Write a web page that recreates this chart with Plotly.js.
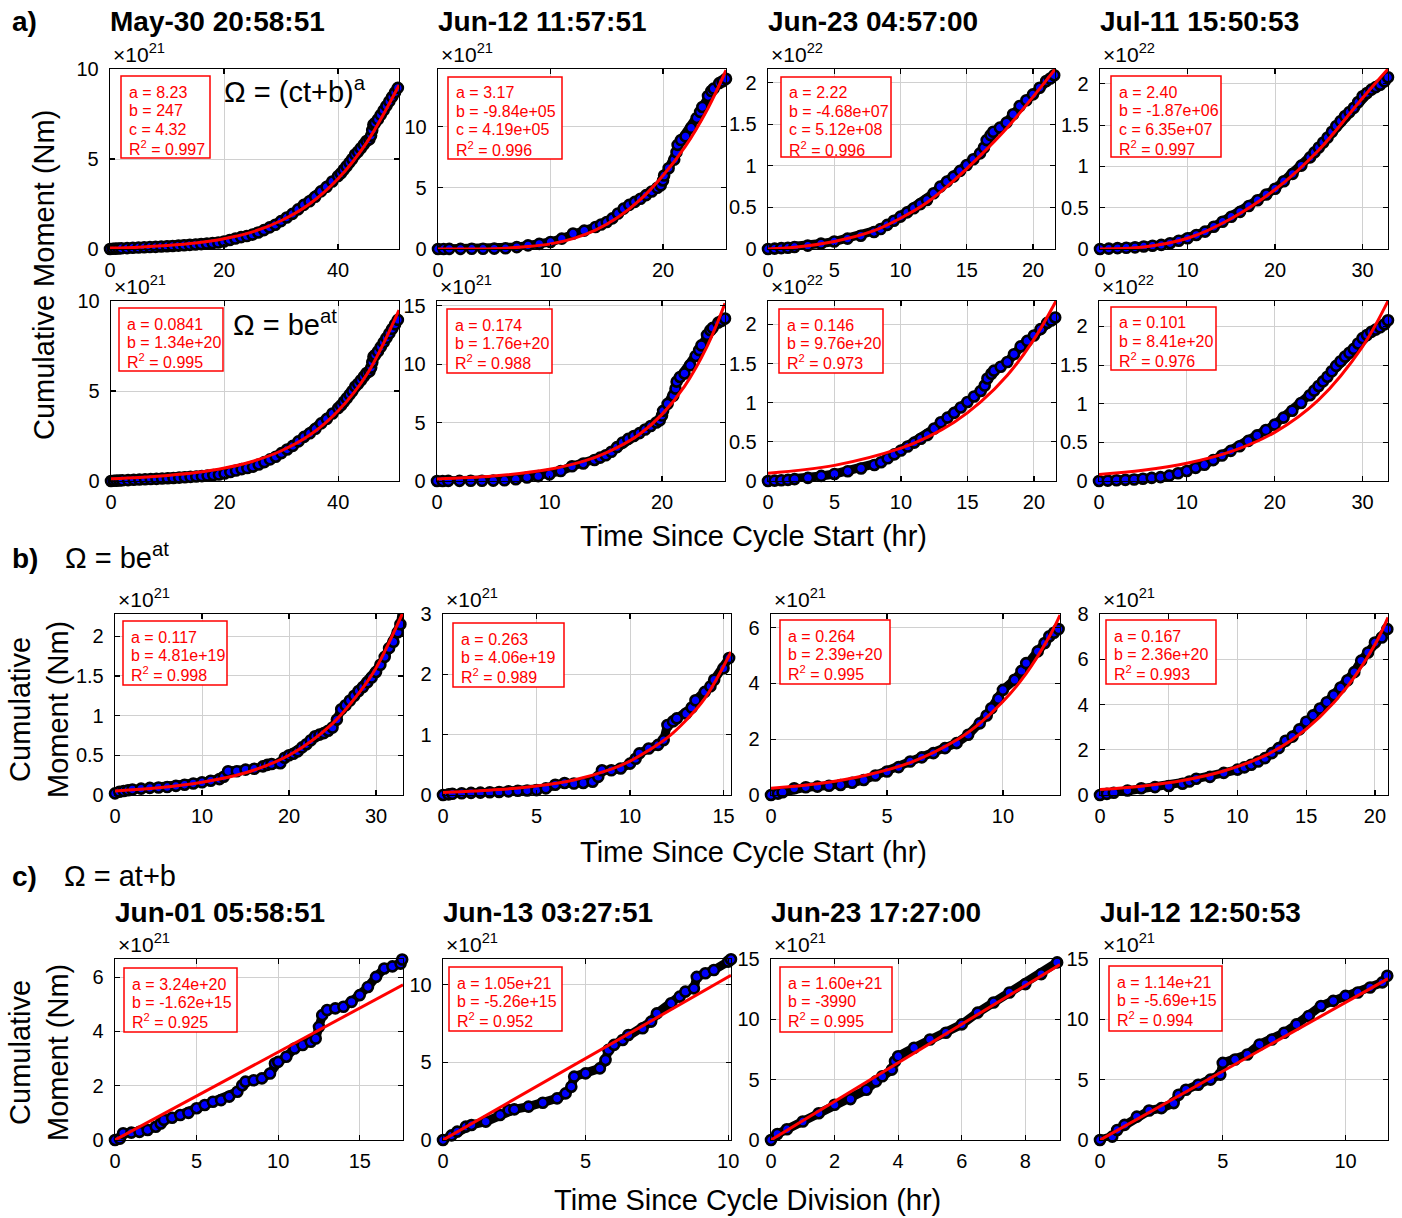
<!DOCTYPE html>
<html><head><meta charset="utf-8">
<script src="https://cdn.plot.ly/plotly-3.0.1.min.js"></script>
<style>html,body{margin:0;padding:0;background:#fff;}</style>
</head><body><div id="chart" style="width:1402px;height:1218px;"></div>
<script>
// ---------------- DATA (time in hr, moment in displayed units) ----------------
const titlesA = ['May-30 20:58:51', 'Jun-12 11:57:51', 'Jun-23 04:57:00', 'Jul-11 15:50:53'];
const titlesC = ['Jun-01 05:58:51', 'Jun-13 03:27:51', 'Jun-23 17:27:00', 'Jul-12 12:50:53'];

// a) cumulative moment since cycle start (x1e21, x1e21, x1e22, x1e22)
const cycMay30 = [[0,0],[0.5,0.01],[1,0.02],[1.5,0.03],[2,0.04],[3,0.05],[4,0.07],[5,0.08],[6,0.1],[7,0.11],[8,0.12],[9,0.14],[10,0.15],[11,0.17],[12,0.19],[13,0.21],[14,0.23],[15,0.25],[16,0.27],[17,0.3],[18,0.33],[19,0.36],[20,0.42],[21,0.5],[22,0.58],[23,0.66],[24,0.72],[25,0.8],[26,0.92],[27,1.05],[28,1.2],[29,1.35],[30,1.55],[31,1.75],[32,1.95],[33,2.2],[34,2.45],[35,2.65],[36,2.9],[37,3.2],[38,3.45],[39,3.75],[40,4.05],[40.5,4.2],[41,4.4],[41.5,4.6],[42,4.8],[42.5,5.0],[43,5.25],[43.5,5.4],[44,5.6],[44.5,5.8],[45,6.0],[45.5,6.1],[45.8,6.3],[46,6.6],[46.2,6.9],[46.5,7.0],[47,7.2],[47.5,7.45],[48,7.7],[48.5,7.95],[49,8.2],[49.5,8.45],[50,8.7],[50.5,8.95]];
const cycJun12 = [[0,0],[0.5,0],[1,0.01],[2,0.01],[3,0.02],[4,0.02],[5,0.03],[6,0.06],[7,0.15],[8,0.3],[9,0.42],[10,0.57],[11,0.85],[12,1.26],[13,1.5],[14,1.8],[14.5,2.0],[15,2.2],[15.5,2.5],[16,2.9],[16.5,3.3],[17,3.6],[17.5,3.85],[18,4.1],[18.5,4.4],[19,4.7],[19.5,5.0],[19.8,5.2],[20,5.6],[20.1,6.0],[20.5,6.6],[21,7.3],[21.2,7.9],[21.3,8.5],[21.6,8.9],[22,9.2],[22.5,9.9],[23,10.7],[23.3,11.2],[23.5,11.6],[24,12.5],[24.3,12.9],[24.5,13.1],[25,13.55],[25.3,13.7],[25.6,13.9]];
const cycJun23 = [[0,0],[0.5,0.005],[1,0.01],[1.5,0.015],[2,0.024],[3,0.04],[4,0.065],[5,0.09],[6,0.125],[7,0.16],[8,0.205],[8.5,0.24],[9,0.29],[9.5,0.34],[10,0.39],[10.5,0.44],[11,0.49],[11.5,0.54],[12,0.59],[12.5,0.67],[13,0.75],[13.5,0.81],[14,0.87],[14.5,0.94],[15,1.01],[15.5,1.08],[16,1.15],[16.3,1.22],[16.5,1.31],[16.8,1.37],[17,1.41],[17.5,1.46],[18,1.52],[18.5,1.62],[19,1.72],[19.5,1.79],[20,1.86],[20.5,1.94],[21,2.02],[21.3,2.05],[21.6,2.09]];
const cycJul11 = [[0,0],[1,0.005],[2,0.01],[3,0.015],[4,0.02],[5,0.03],[6,0.04],[7,0.05],[8,0.07],[9,0.1],[10,0.13],[11,0.17],[12,0.21],[13,0.27],[14,0.33],[15,0.39],[16,0.45],[17,0.52],[18,0.59],[19,0.66],[20,0.73],[21,0.82],[22,0.91],[23,1.01],[24,1.11],[24.5,1.17],[25,1.23],[25.5,1.29],[26,1.35],[26.5,1.42],[27,1.49],[27.5,1.55],[28,1.61],[28.5,1.66],[29,1.71],[29.5,1.78],[30,1.85],[30.5,1.89],[31,1.93],[31.5,1.96],[32,1.99],[32.5,2.03],[32.9,2.08]];

// a) fits: power law (top row) and exponential (bottom row)
const powFitMay30 = [[0,0.05],[5,0.1],[10,0.19],[15,0.33],[20,0.57],[25,0.95],[30,1.57],[35,2.5],[40,3.9],[45,5.9],[50.7,9.1]];
const powFitJun12 = [[0,0],[3,0.001],[5,0.02],[8,0.2],[10,0.42],[12,0.85],[14,1.55],[16,2.6],[18,4.05],[20,6.0],[22,8.4],[24,11.5],[25.6,14.6]];
const powFitJun23 = [[0,0],[2,0.02],[5,0.09],[8,0.22],[10,0.37],[12,0.56],[14,0.82],[16,1.12],[18,1.45],[20,1.83],[21.66,2.16]];
const powFitJul11 = [[0,0],[5,0.025],[10,0.13],[15,0.37],[20,0.72],[25,1.2],[30,1.83],[32.9,2.18]];
const expFitMay30 = [[0,0.13],[5,0.2],[10,0.31],[15,0.47],[20,0.72],[25,1.1],[30,1.68],[35,2.55],[40,3.9],[45,5.9],[50.7,9.5]];
const expFitJun12 = [[0,0.18],[5,0.42],[10,1.0],[12,1.42],[14,2.0],[16,2.85],[18,4.0],[20,5.7],[22,8.1],[24,11.5],[25.6,15.2]];
const expFitJun23 = [[0,0.1],[5,0.2],[10,0.42],[12,0.56],[14,0.75],[16,1.01],[18,1.35],[20,1.81],[21.66,2.3]];
const expFitJul11 = [[0,0.085],[5,0.14],[10,0.23],[15,0.38],[20,0.63],[25,1.05],[30,1.74],[32.9,2.33]];

// b) exponential fits since cycle start (x1e21)
const bData1 = [[0,0.02],[0.5,0.04],[1,0.05],[1.5,0.06],[2,0.07],[3,0.08],[4,0.09],[5,0.095],[6,0.1],[7,0.115],[8,0.13],[9,0.145],[10,0.16],[11,0.18],[12,0.2],[12.5,0.23],[13,0.3],[14,0.3],[15,0.32],[16,0.33],[17,0.36],[17.5,0.38],[18,0.39],[19,0.4],[19.5,0.47],[20,0.5],[20.5,0.52],[21,0.55],[21.5,0.6],[22,0.64],[22.5,0.69],[23,0.74],[23.5,0.76],[24,0.78],[24.5,0.81],[25,0.85],[25.5,0.95],[26,1.08],[26.5,1.13],[27,1.19],[27.5,1.25],[28,1.31],[28.5,1.36],[29,1.42],[29.5,1.48],[30,1.55],[30.5,1.64],[31,1.74],[31.5,1.85],[32,1.93],[32.5,2.05],[32.8,2.15],[33,2.3]];
const bData2 = [[0,0],[0.3,0.01],[0.5,0.02],[1,0.03],[1.5,0.035],[2,0.04],[2.5,0.045],[3,0.05],[3.5,0.06],[4,0.07],[4.5,0.075],[5,0.08],[5.5,0.11],[6,0.17],[6.5,0.2],[7,0.19],[7.5,0.2],[8,0.22],[8.3,0.3],[8.5,0.41],[9,0.41],[9.5,0.44],[10,0.52],[10.3,0.6],[10.5,0.69],[11,0.77],[11.5,0.83],[11.8,0.91],[12,1.16],[12.3,1.22],[12.5,1.27],[13,1.35],[13.3,1.45],[13.5,1.57],[14,1.71],[14.3,1.8],[14.5,1.91],[15,2.1],[15.3,2.27]];
const bData3 = [[0,0],[0.3,0.05],[0.5,0.1],[1,0.24],[1.5,0.28],[2,0.3],[2.5,0.33],[3,0.36],[3.5,0.44],[4,0.54],[4.5,0.7],[5,0.84],[5.5,1.0],[6,1.2],[6.5,1.35],[7,1.5],[7.5,1.68],[8,1.86],[8.5,2.16],[9,2.57],[9.3,2.85],[9.5,3.11],[9.8,3.45],[10,3.77],[10.5,4.13],[10.8,4.45],[11,4.73],[11.5,5.15],[11.8,5.45],[12,5.69],[12.2,5.82],[12.4,5.95]];
const bData4 = [[0,0],[0.5,0.05],[1,0.1],[2,0.2],[3,0.3],[4,0.35],[5,0.4],[6,0.5],[6.5,0.6],[7,0.72],[8,0.8],[9,0.98],[10,1.12],[10.5,1.22],[11,1.34],[11.5,1.48],[12,1.63],[12.5,1.85],[13,2.07],[13.5,2.4],[14,2.58],[14.5,2.9],[15,3.24],[15.5,3.52],[16,3.82],[16.5,4.1],[17,4.41],[17.5,4.75],[18,5.07],[18.5,5.43],[19,5.94],[19.5,6.3],[20,6.74],[20.5,6.96],[20.9,7.33]];
const bFit1 = [[0,0.05],[5,0.09],[10,0.16],[15,0.28],[20,0.5],[25,0.9],[28,1.28],[30,1.6],[33.1,2.3]];
const bFit2 = [[0,0.04],[3,0.09],[5,0.15],[7,0.25],[9,0.43],[10,0.56],[11,0.74],[12,0.95],[13,1.24],[14,1.6],[15.4,2.37]];
const bFit3 = [[0,0.24],[2,0.4],[4,0.69],[6,1.16],[8,1.97],[9,2.57],[10,3.35],[11,4.35],[12,5.68],[12.46,6.45]];
const bFit4 = [[0,0.24],[3,0.39],[6,0.64],[9,1.06],[12,1.74],[14,2.45],[16,3.45],[18,4.8],[20,6.65],[20.95,7.85]];

// c) linear fits since cycle division (x1e21)
const cData1 = [[0,0],[0.3,0.05],[0.5,0.25],[1,0.27],[1.5,0.3],[2,0.37],[2.5,0.49],[2.8,0.61],[3,0.74],[3.5,0.82],[4,0.92],[4.5,1.0],[5,1.17],[5.5,1.29],[6,1.41],[6.5,1.47],[7,1.6],[7.5,1.78],[7.8,2.02],[8,2.15],[8.5,2.2],[9,2.27],[9.5,2.45],[9.8,2.82],[10,2.88],[10.5,3.07],[11,3.37],[11.5,3.5],[12,3.62],[12.3,3.74],[12.5,4.17],[12.7,4.6],[13,4.79],[13.5,4.85],[14,4.91],[14.5,5.09],[15,5.34],[15.5,5.64],[16,6.01],[16.5,6.32],[17,6.4],[17.5,6.5],[17.6,6.65]];
const cData2 = [[0,0],[0.3,0.3],[0.5,0.54],[0.8,0.86],[1,0.97],[1.5,1.18],[2,1.61],[2.3,1.93],[2.5,1.97],[3,2.15],[3.5,2.4],[4,2.68],[4.3,3.0],[4.5,3.43],[4.6,4.08],[5,4.29],[5.5,4.61],[5.7,5.15],[5.8,5.8],[6,6.12],[6.3,6.44],[6.5,6.76],[7,7.19],[7.3,7.62],[7.5,8.15],[8,8.8],[8.3,9.23],[8.5,9.55],[8.8,9.76],[8.9,10.5],[9.2,10.73],[9.5,10.94],[10,11.48],[10.1,11.63]];
const cData3 = [[0,0],[0.2,0.5],[0.5,0.89],[1,1.53],[1.5,2.22],[2,2.92],[2.5,3.39],[3,4.17],[3.3,4.86],[3.5,5.28],[3.8,5.83],[3.9,6.53],[4,6.94],[4.5,7.64],[5,8.33],[5.5,8.89],[6,9.58],[6.5,10.56],[7,11.39],[7.5,12.22],[8,12.92],[8.5,13.75],[9,14.72]];
const cData4 = [[0,0],[0.5,0.28],[0.7,0.83],[1,1.25],[1.5,1.94],[2,2.44],[2.5,2.64],[3,3.06],[3.2,3.75],[3.5,4.17],[4,4.58],[4.5,5.0],[4.9,5.42],[5,6.39],[5.5,6.67],[6,7.08],[6.5,7.92],[7,8.33],[7.5,8.89],[8,9.58],[8.5,10.28],[9,11.11],[9.5,11.53],[10,11.94],[10.5,12.22],[11,12.64],[11.5,13.06],[11.7,13.61]];
const cFit1 = [[0,0],[17.65,5.72]];
const cFit2 = [[0,0],[10.1,10.6]];
const cFit3 = [[0,0],[9.09,14.54]];
const cFit4 = [[0,0],[11.73,13.37]];

// fit parameter boxes
const paramText = [
  ['a = 8.23','b = 247','c = 4.32','R<sup>2</sup> = 0.997'],
  ['a = 3.17','b = -9.84e+05','c = 4.19e+05','R<sup>2</sup> = 0.996'],
  ['a = 2.22','b = -4.68e+07','c = 5.12e+08','R<sup>2</sup> = 0.996'],
  ['a = 2.40','b = -1.87e+06','c = 6.35e+07','R<sup>2</sup> = 0.997'],
  ['a = 0.0841','b = 1.34e+20','R<sup>2</sup> = 0.995'],
  ['a = 0.174','b = 1.76e+20','R<sup>2</sup> = 0.988'],
  ['a = 0.146','b = 9.76e+20','R<sup>2</sup> = 0.973'],
  ['a = 0.101','b = 8.41e+20','R<sup>2</sup> = 0.976'],
  ['a = 0.117','b = 4.81e+19','R<sup>2</sup> = 0.998'],
  ['a = 0.263','b = 4.06e+19','R<sup>2</sup> = 0.989'],
  ['a = 0.264','b = 2.39e+20','R<sup>2</sup> = 0.995'],
  ['a = 0.167','b = 2.36e+20','R<sup>2</sup> = 0.993'],
  ['a = 3.24e+20','b = -1.62e+15','R<sup>2</sup> = 0.925'],
  ['a = 1.05e+21','b = -5.26e+15','R<sup>2</sup> = 0.952'],
  ['a = 1.60e+21','b = -3990','R<sup>2</sup> = 0.995'],
  ['a = 1.14e+21','b = -5.69e+15','R<sup>2</sup> = 0.994']
];
const exponents = [21,21,22,22, 21,21,22,22, 21,21,21,21, 21,21,21,21];
const xTicks = [[0,20,40],[0,10,20],[0,5,10,15,20],[0,10,20,30],
                [0,20,40],[0,10,20],[0,5,10,15,20],[0,10,20,30],
                [0,10,20,30],[0,5,10,15],[0,5,10],[0,5,10,15,20],
                [0,5,10,15],[0,5,10],[0,2,4,6,8],[0,5,10]];
const yTicks = [[0,5,10],[0,5,10],[0,0.5,1,1.5,2],[0,0.5,1,1.5,2],
                [0,5,10],[0,5,10,15],[0,0.5,1,1.5,2],[0,0.5,1,1.5,2],
                [0,0.5,1,1.5,2],[0,1,2,3],[0,2,4,6],[0,2,4,6,8],
                [0,2,4,6],[0,5,10],[0,5,10,15],[0,5,10,15]];
const xMax = [50.7,25.6,21.66,32.9, 50.7,25.6,21.66,32.9, 33.1,15.4,12.46,20.95, 17.65,10.1,9.09,11.73];
const yMax = [10,14.7,2.165,2.18, 10,15.4,2.3,2.33, 2.28,3,6.49,8, 6.67,11.65,15,15];

const panelData = [cycMay30,cycJun12,cycJun23,cycJul11, cycMay30,cycJun12,cycJun23,cycJul11, bData1,bData2,bData3,bData4, cData1,cData2,cData3,cData4];
const panelFit = [powFitMay30,powFitJun12,powFitJun23,powFitJul11, expFitMay30,expFitJun12,expFitJun23,expFitJul11, bFit1,bFit2,bFit3,bFit4, cFit1,cFit2,cFit3,cFit4];

// ---------------- LAYOUT GEOMETRY (pixels) ----------------
const W = 1402, H = 1218;
const FONT = 'Liberation Sans, Arial, Helvetica, sans-serif';
const colX = [
  [[110,399],[438,726],[768,1055],[1100,1388]],
  [[111,399],[437,725],[768,1056],[1099,1388]],
  [[115,403],[443,731],[771,1060],[1100,1388]],
  [[115,403],[443,731],[771,1060],[1100,1388]]
];
const rowY = [[69,249],[301,481],[614,795],[959,1140]];
const boxPx = [
  [121,76,210,158],[448,77,562,159],[781,77,891,157],[1111,76,1221,157],
  [119,308,223,371],[447,309,552,373],[779,309,883,373],[1111,307,1216,370],
  [123,621,227,685],[453,623,564,687],[780,620,890,684],[1106,620,1216,684],
  [124,968,237,1032],[449,967,562,1031],[780,967,892,1032],[1109,966,1222,1031]
];
const px = v => v / W;
const py = v => 1 - v / H;

const traces = [];
const layout = {
  width: W, height: H, margin: {l:0, r:0, t:0, b:0},
  paper_bgcolor: '#fff', plot_bgcolor: '#fff',
  showlegend: false, font: {family: FONT, color: '#000'},
  annotations: [], shapes: []
};

for (let i = 0; i < 16; i++) {
  const r = Math.floor(i / 4), c = i % 4;
  const k = i + 1;
  const xs = k === 1 ? '' : String(k);
  const [x0, x1] = colX[r][c];
  const [y0, y1] = rowY[r];
  const axCommon = {
    showgrid: true, gridcolor: '#d0d0d0', gridwidth: 1,
    showline: true, linecolor: '#000', linewidth: 1.3, mirror: 'ticks',
    ticks: 'inside', ticklen: 5, tickwidth: 1.2, tickcolor: '#000',
    zeroline: false, tickfont: {family: FONT, size: 20, color: '#000'},
    fixedrange: true
  };
  layout['xaxis' + xs] = Object.assign({}, axCommon, {
    domain: [px(x0), px(x1)], range: [0, xMax[i]], tickvals: xTicks[i],
    anchor: 'y' + xs, ticklabelstandoff: 3
  });
  layout['yaxis' + xs] = Object.assign({}, axCommon, {
    domain: [py(y1), py(y0)], range: [0, yMax[i]], tickvals: yTicks[i],
    anchor: 'x' + xs, ticklabelstandoff: 6
  });
  const d = panelData[i], f = panelFit[i];
  traces.push({
    type: 'scatter', mode: 'lines+markers', xaxis: 'x' + xs, yaxis: 'y' + xs,
    x: d.map(p => p[0]), y: d.map(p => p[1]),
    line: {color: '#000', width: 9},
    marker: {size: 10, color: '#0000ff', line: {color: '#000', width: 2.6}},
    cliponaxis: false, hoverinfo: 'skip'
  });
  traces.push({
    type: 'scatter', mode: 'lines', xaxis: 'x' + xs, yaxis: 'y' + xs,
    x: f.map(p => p[0]), y: f.map(p => p[1]),
    line: {color: '#ff0000', width: 3, shape: 'spline'}, hoverinfo: 'skip'
  });
  // exponent label
  layout.annotations.push({
    xref: 'paper', yref: 'paper', x: px(x0 + 1), y: py(y0 - 1),
    xanchor: 'left', yanchor: 'bottom', showarrow: false,
    text: '×10<sup>' + exponents[i] + '</sup>',
    font: {family: FONT, size: 21, color: '#000'}
  });
  // parameter box
  const b = boxPx[i];
  layout.shapes.push({
    type: 'rect', xref: 'paper', yref: 'paper',
    x0: px(b[0]), x1: px(b[2]), y0: py(b[3]), y1: py(b[1]),
    line: {color: '#ff0000', width: 1.5}, fillcolor: 'rgba(255,255,255,1)'
  });
  paramText[i].forEach((t, j) => {
    layout.annotations.push({
      xref: 'paper', yref: 'paper', x: px(b[0] + 6), y: py(b[1] + 16 + j * 18.5),
      xanchor: 'left', yanchor: 'middle', showarrow: false, text: t,
      font: {family: FONT, size: 16, color: '#ff0000'}
    });
  });
}

function txt(t, x, y, size, opts) {
  layout.annotations.push(Object.assign({
    xref: 'paper', yref: 'paper', x: px(x), y: py(y), xanchor: 'left', yanchor: 'middle',
    showarrow: false, text: t, font: {family: FONT, size: size, color: '#000'}
  }, opts || {}));
}

// panel titles
titlesA.forEach((t, c) => txt('<b>' + t + '</b>', colX[0][c][0] - 2, 22, 28));
titlesC.forEach((t, c) => txt('<b>' + t + '</b>', colX[3][c][0] - 2, 912, 28));

// row labels & formulas
txt('<b>a)</b>', 10, 22, 28);
txt('Ω = (ct+b)<sup>a</sup>', 222, 90, 29);
txt('Ω = be<sup>at</sup>', 231, 323, 29);
txt('<b>b)</b>', 10, 558, 28);
txt('Ω = be<sup>at</sup>', 63, 556, 29);
txt('<b>c)</b>', 10, 876, 28);
txt('Ω = at+b', 62, 876, 29);

// axis titles
txt('Cumulative Moment (Nm)', 44, 275, 29, {xanchor: 'center', textangle: -90});
txt('Cumulative<br>Moment (Nm)', 39, 710, 29, {xanchor: 'center', textangle: -90});
txt('Cumulative<br>Moment (Nm)', 39, 1053, 29, {xanchor: 'center', textangle: -90});
txt('Time Since Cycle Start (hr)', 753, 536, 29, {xanchor: 'center'});
txt('Time Since Cycle Start (hr)', 753, 852, 29, {xanchor: 'center'});
txt('Time Since Cycle Division (hr)', 748, 1200, 29, {xanchor: 'center'});

Plotly.newPlot('chart', traces, layout, {staticPlot: true, displayModeBar: false});
</script>
</body></html>
